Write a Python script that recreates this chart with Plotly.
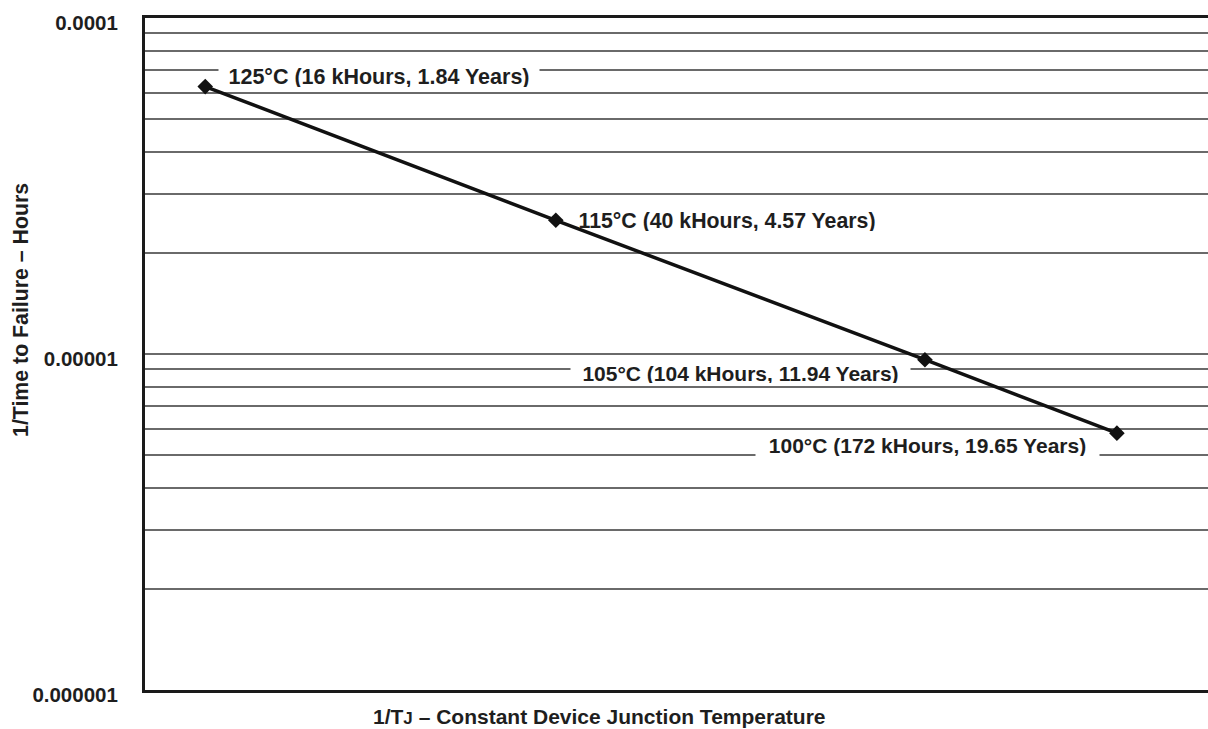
import plotly.graph_objects as go
import numpy as np

# Data
temps_c = [125, 115, 105, 100]
inv_ttf = [1/16000, 1/40000, 1/104000, 1/172000]
labels = ["125°C (16 kHours, 1.84 Years)",
          "115°C (40 kHours, 4.57 Years)",
          "105°C (104 kHours, 11.94 Years)",
          "100°C (172 kHours, 19.65 Years)"]
label_y = [6.68e-5, 2.49e-5, 8.75e-6, 5.35e-6]
y_tick_text = ["0.000001", "0.00001", "0.0001"]

inv_tj = [1/(t + 273.15) for t in temps_c]

FONT = "Liberation Sans, Arial, sans-serif"
TXT = "#1e1e1e"

fig = go.Figure()
fig.add_trace(go.Scatter(
    x=inv_tj, y=inv_ttf, mode="lines+markers",
    line=dict(color="#111111", width=3.5),
    marker=dict(symbol="diamond", size=12, color="#111111"),
    showlegend=False, hoverinfo="skip"))

# grid values
grid_vals = []
grid_text = []
for dec in [1e-6, 1e-5]:
    for m in range(1, 10):
        grid_vals.append(m*dec)
        grid_text.append(y_tick_text[0] if (m == 1 and dec == 1e-6) else (y_tick_text[1] if m == 1 else ""))
grid_vals.append(1e-4)
grid_text.append(y_tick_text[2])

# annotations for data labels (white box hides gridlines)
specs = [
    dict(xanchor="left", xshift=13, width=320, height=20, bg="white", size=21.5),
    dict(xanchor="left", xshift=20, width=300, height=20, bg="rgba(0,0,0,0)", size=21.3),
    dict(xanchor="right", xshift=-14, width=339, height=20, bg="white", size=21),
    dict(xanchor="right", xshift=-17, width=343, height=22, bg="white", size=21),
]
for xv, yv, txt, sp in zip(inv_tj, label_y, labels, specs):
    fig.add_annotation(
        x=xv, y=np.log10(yv), xref="x", yref="y", text="<b>%s</b>" % txt,
        showarrow=False, xanchor=sp["xanchor"], yanchor="middle", xshift=sp["xshift"],
        width=sp["width"], height=sp["height"], bgcolor=sp["bg"], borderpad=0,
        font=dict(family=FONT, size=sp["size"], color=TXT), align="center")

fig.add_annotation(
    x=0.428, y=-0.04, xref="paper", yref="paper", showarrow=False,
    text="<b>1/T<span style='font-size:17px'>J</span> – Constant Device Junction Temperature</b>",
    xanchor="center", yanchor="middle", font=dict(family=FONT, size=21, color=TXT))
fig.add_annotation(
    x=-0.1167, y=0.5655, xref="paper", yref="paper", showarrow=False,
    text="<b>1/Time to Failure – Hours</b>", textangle=-90,
    xanchor="center", yanchor="middle", font=dict(family=FONT, size=21.3, color=TXT))

fig.update_layout(
    width=1208, height=729,
    margin=dict(l=145, r=0, t=18, b=39),
    paper_bgcolor="white", plot_bgcolor="white",
    xaxis=dict(range=[0.0025005, 0.0026967], showticklabels=False, ticks="",
               showgrid=False, zeroline=False, showline=True, linecolor="#1a1a1a",
               linewidth=3, mirror=True),
    yaxis=dict(type="log", range=[-6, -4], tickvals=grid_vals, ticktext=grid_text,
               showgrid=True, gridcolor="#6a6a6a", gridwidth=1.5, ticks="",
               showline=True, linecolor="#1a1a1a", linewidth=3, zeroline=False,
               ticklabelstandoff=20, ticklabelshift=5,
               tickfont=dict(family=FONT, size=20.5, color=TXT, weight="bold")),
)

fig.write_html("out.html", config={"displayModeBar": False},
               post_script="document.body.style.margin='0';document.body.style.overflow='hidden';")
